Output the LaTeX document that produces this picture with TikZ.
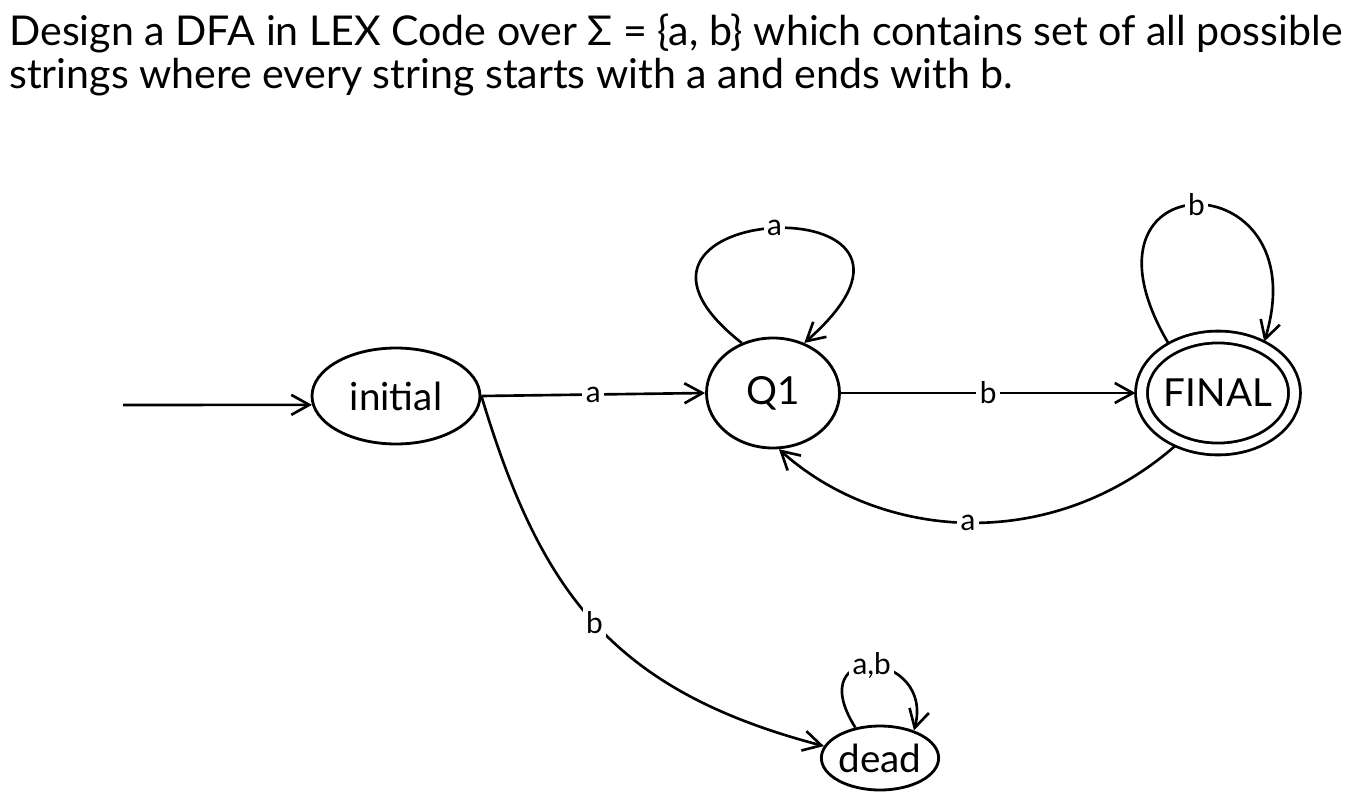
\documentclass[tikz,border=0pt]{standalone}
\usepackage{fontspec}
\setmainfont{Lato}
\usetikzlibrary{arrows.meta, shapes.geometric}

\begin{document}
\begin{tikzpicture}[
  x=0.02cm, y=-0.02cm,
  st/.style={draw, ellipse, line width=1.6pt, inner sep=0pt,
             font=\fontsize{22}{26}\selectfont},
  acc/.style={st, double, double distance=0.18cm},
  fl/.style={-{Straight Barb[length=3.6mm, width=4mm]}, line width=1.5pt},
  t/.style={fill=white, inner sep=2pt, font=\fontsize{17}{19}\selectfont}
]
\useasboundingbox (0,0) rectangle (1357,805);

\node[anchor=north west, align=left, inner sep=0pt,
      font=\fontsize{23.4}{24}\selectfont] (title) at (9,14)
  {Design a DFA in LEX Code over Σ = \{a, b\} which contains set of all possible\\
   strings where every string starts with a and ends with b.};

\node[st, minimum width=3.36cm, minimum height=1.92cm] (init) at (396,396) {initial};
\node[st, minimum width=2.66cm, minimum height=2.2cm] (q1) at (773,393) {Q1};
\node[acc, minimum width=2.96cm, minimum height=2.24cm, outer sep=0.12cm] (fin) at (1218,393) {FINAL};
\node[st, minimum width=2.08cm, minimum height=1.28cm] (dead) at (880,758) {dead};
\coordinate (start) at (123,405);

\draw[fl] (start) -- (init.186);
\draw[fl] (init.east) -- node[t] {a} (q1.west);
\draw[fl] (q1.east) -- node[t] {b} (fin.west);
\draw[fl] (fin.231) .. controls (1050,555) and (880,540) .. node[t] {a} (q1.-84);
\draw[fl] (init.east) .. controls (540,590) and (610,690) .. node[t] {b} (dead.168);

% self loops
\draw[fl] (q1.122) .. controls (560,200) and (990,180) .. node[t] {a} (q1.58);
\draw[fl] (fin.135) .. controls (1060,159) and (1320,159) .. node[t] {b} (fin.48);
\draw[fl] (dead.129) .. controls (800,640) and (935,650) .. node[t] {a,b} (dead.39);
\end{tikzpicture}
\end{document}
